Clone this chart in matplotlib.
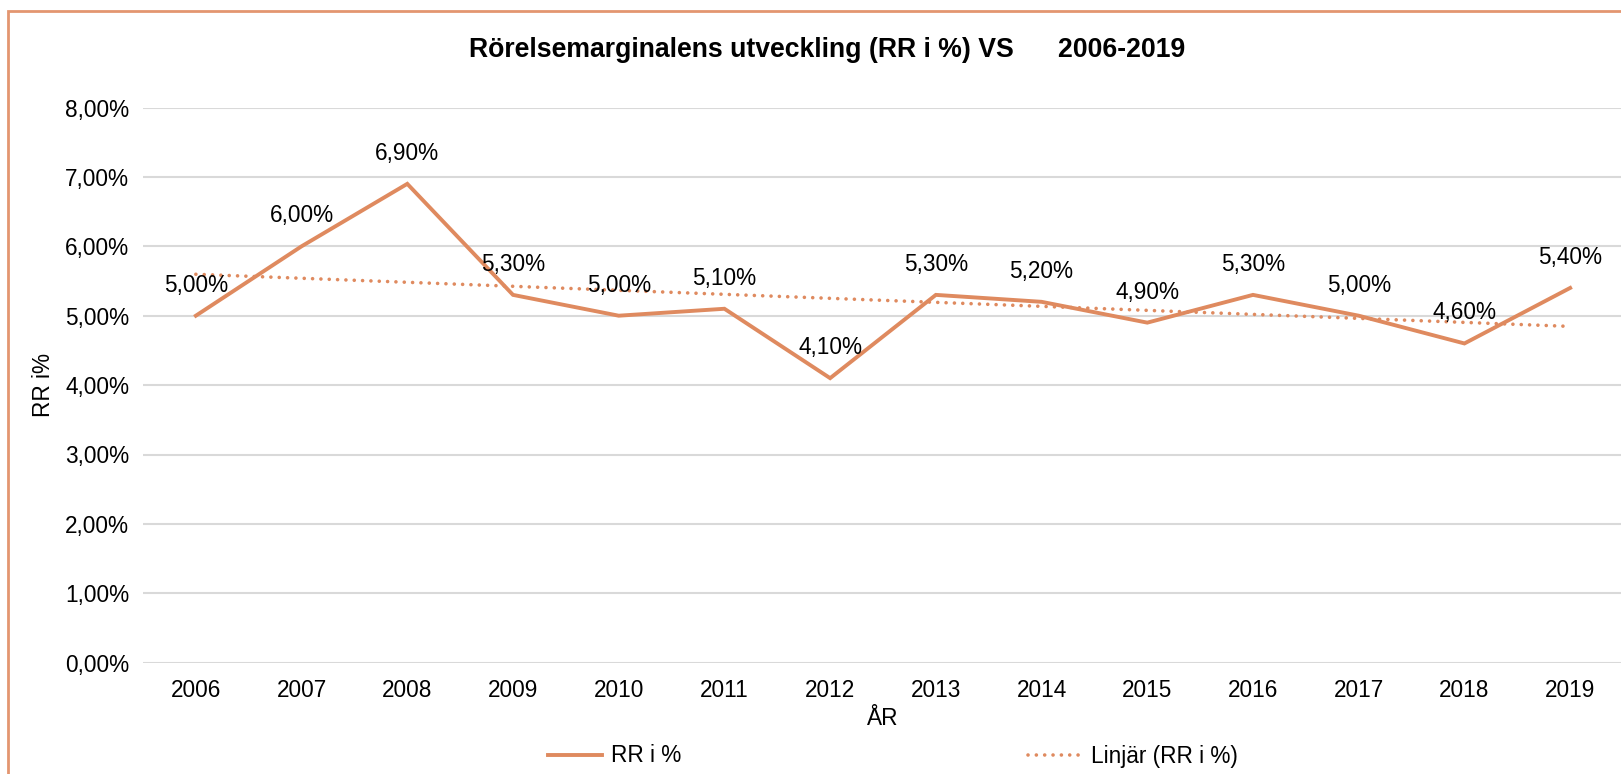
import numpy as np
import matplotlib
matplotlib.use("Agg")
import matplotlib.pyplot as plt
from matplotlib.patches import Rectangle

# data
years = [2006, 2007, 2008, 2009, 2010, 2011, 2012, 2013, 2014, 2015, 2016, 2017, 2018, 2019]
rr = [5.0, 6.0, 6.9, 5.3, 5.0, 5.1, 4.1, 5.3, 5.2, 4.9, 5.3, 5.0, 4.6, 5.4]
yticks = [0, 1, 2, 3, 4, 5, 6, 7, 8]

plt.rcParams['font.family'] = ['Liberation Sans', 'DejaVu Sans']

ORANGE = '#DF8A5F'
FS = 16.3
W, H = 1621, 774
fig = plt.figure(figsize=(W / 100, H / 100), dpi=100)
ax = fig.add_axes([143 / W, 1 - 662.7 / H, 1480 / W, (662.7 - 107.5) / H])

x = np.arange(len(years))
ax.plot(x, rr, color=ORANGE, lw=2.8, solid_joinstyle='miter', label='RR i %', zorder=3)

# linear trendline
k, m = np.polyfit(x, rr, 1)
ax.plot(x, k * x + m, color=ORANGE, lw=2.6, dash_capstyle='round',
        linestyle=(0, (0.01, 2.3)), label='Linjär (RR i %)', zorder=2)

for xi, v in zip(x, rr):
    ax.annotate(f"{v:.2f}%".replace('.', ','), (xi, v), xytext=(0, 22),
                textcoords='offset points', ha='center', va='center', fontsize=FS)

ax.set_xlim(-0.5, len(years) - 0.5)
ax.set_ylim(0, 8)
ax.set_yticks(yticks)
ax.set_yticklabels([f"{t:.2f}%".replace('.', ',') for t in yticks])
ax.set_xticks(x)
ax.set_xticklabels([str(y) for y in years])
ax.tick_params(length=0, labelsize=FS)
ax.tick_params(axis='y', pad=10)
ax.tick_params(axis='x', pad=12)
ax.grid(axis='y', color='#D9D9D9', lw=1.5)
ax.set_axisbelow(True)
for s in ax.spines.values():
    s.set_visible(False)

ax.set_xlabel('ÅR', fontsize=FS, labelpad=3)
ax.set_ylabel('RR i%', fontsize=FS)
ax.yaxis.set_label_coords(-0.0595, 0.5)

fig.text(827 / W, 1 - 50 / H, 'Rörelsemarginalens utveckling (RR i %) VS      2006-2019',
         ha='center', va='center', fontsize=19.2, fontweight='bold')

leg = fig.legend(loc='center', bbox_to_anchor=(893 / W, 1 - 756 / H), ncol=2, frameon=False,
                 fontsize=FS, handlelength=2.4, columnspacing=15.3, handletextpad=0.4)

# chart border (cropped at right and bottom)
fig.patches.append(Rectangle((8 / W, -0.1), 1.2, 1 - 11 / H + 0.1, transform=fig.transFigure,
                             fill=False, edgecolor='#E39670', lw=2.0))

fig.savefig('out.png', dpi=100, facecolor='white')
